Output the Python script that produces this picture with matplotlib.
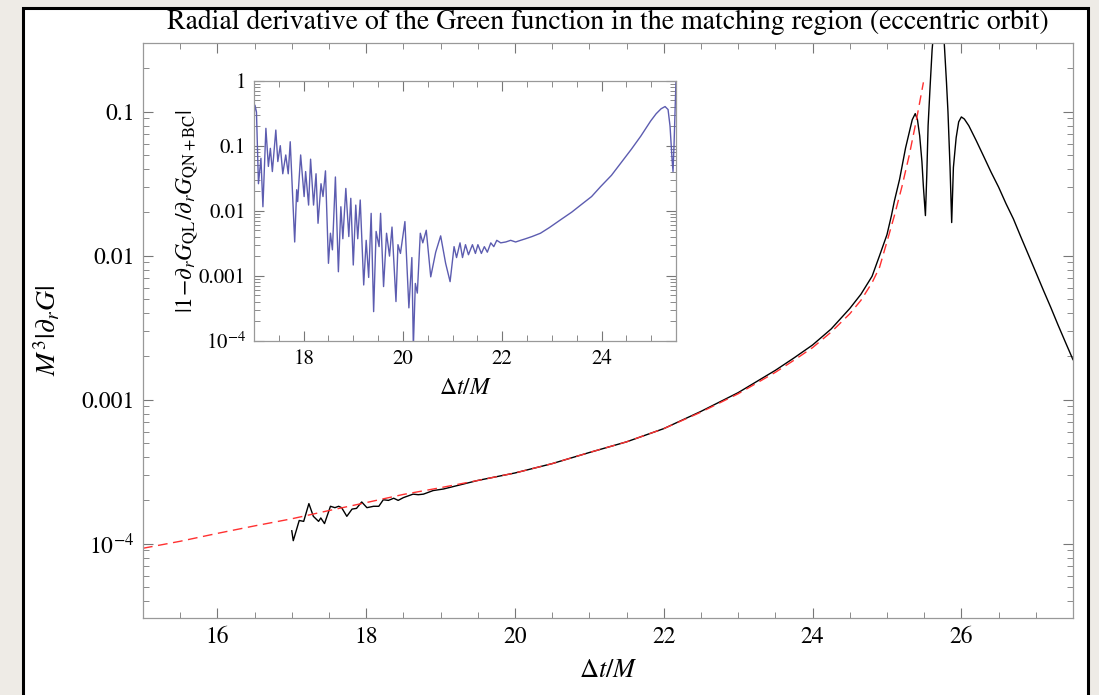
import matplotlib
matplotlib.use("Agg")
import matplotlib.pyplot as plt
from matplotlib.patches import Rectangle
from matplotlib.ticker import FixedLocator, FixedFormatter, MultipleLocator

plt.rcParams["font.family"] = ["STIXGeneral", "DejaVu Serif"]
plt.rcParams["mathtext.fontset"] = "stix"

# main curve (black): numerical derivative of the Green function
green_t = [17.00, 17.02, 17.10, 17.16, 17.23, 17.29, 17.36, 17.39, 17.44, 17.52,
           17.58, 17.63, 17.67, 17.74, 17.81, 17.87, 17.94, 18.01, 18.10, 18.17,
           18.23, 18.30, 18.37, 18.43, 18.50, 18.63, 18.70, 18.77, 18.90, 19.04,
           19.5, 20.0, 20.5, 21.0, 21.5, 22.0, 22.5, 23.0, 23.5, 23.75,
           24.0, 24.25, 24.5, 24.65, 24.8, 24.9, 25.0, 25.06, 25.1, 25.17,
           25.2, 25.25, 25.3, 25.34, 25.38, 25.41, 25.44, 25.47, 25.49, 25.517,
           25.535, 25.553, 25.58, 25.607, 25.64, 25.67, 25.70, 25.73, 25.77, 25.80,
           25.82, 25.848, 25.87, 25.893, 25.93, 25.964, 26.0, 26.04, 26.1, 26.2,
           26.3, 26.4, 26.5, 26.6, 26.7, 26.8, 26.9, 27.0, 27.1, 27.2,
           27.3, 27.4, 27.5]
green_val = [1.23e-4, 1.05e-4, 1.45e-4, 1.43e-4, 1.9e-4, 1.55e-4, 1.43e-4, 1.51e-4, 1.38e-4, 1.82e-4,
             1.78e-4, 1.82e-4, 1.78e-4, 1.55e-4, 1.74e-4, 1.76e-4, 1.95e-4, 1.78e-4, 1.82e-4, 1.82e-4,
             2.02e-4, 2.0e-4, 2.07e-4, 2.0e-4, 2.09e-4, 2.21e-4, 2.19e-4, 2.21e-4, 2.34e-4, 2.4e-4,
             2.75e-4, 3.1e-4, 3.6e-4, 4.3e-4, 5.1e-4, 6.3e-4, 8.3e-4, 1.12e-3, 1.6e-3, 1.95e-3,
             2.4e-3, 3.1e-3, 4.3e-3, 5.4e-3, 7.2e-3, 0.0100, 0.014, 0.019, 0.024, 0.034,
             0.041, 0.056, 0.072, 0.088, 0.097, 0.088, 0.068, 0.045, 0.030, 0.019,
             0.036, 0.08, 0.15, 0.27, 0.42, 0.52, 0.55, 0.48, 0.30, 0.16,
             0.10, 0.041, 0.017, 0.041, 0.066, 0.085, 0.092, 0.089, 0.080, 0.063,
             0.049, 0.038, 0.030, 0.023, 0.018, 0.0135, 0.0102, 0.0077, 0.0058, 0.0044,
             0.0033, 0.0025, 0.0019]

# quasi-local approximation (red dashed)
ql_t = [15.0, 15.5, 16.0, 16.5, 17.0, 17.5, 18.0, 18.5, 19.0, 19.5,
        20.0, 20.5, 21.0, 21.5, 22.0, 22.5, 23.0, 23.5, 23.75, 24.0,
        24.25, 24.5, 24.65, 24.8, 24.9, 25.0, 25.1, 25.2, 25.3, 25.4, 25.49]
ql_val = [9.3e-5, 1.04e-4, 1.18e-4, 1.33e-4, 1.49e-4, 1.7e-4, 1.93e-4, 2.2e-4, 2.45e-4, 2.75e-4,
          3.1e-4, 3.6e-4, 4.3e-4, 5.1e-4, 6.3e-4, 8.2e-4, 1.1e-3, 1.55e-3, 1.88e-3, 2.3e-3,
          2.95e-3, 3.95e-3, 4.9e-3, 6.5e-3, 8.3e-3, 0.0125, 0.019, 0.030, 0.050, 0.090, 0.16]

# inset: relative difference
diff_t = [17.00, 17.02, 17.05, 17.09, 17.14, 17.18, 17.24, 17.29, 17.33, 17.37,
          17.44, 17.48, 17.53, 17.58, 17.64, 17.69, 17.73, 17.82, 17.86, 17.88,
          17.94, 18.01, 18.04, 18.10, 18.14, 18.20, 18.25, 18.29, 18.35, 18.39,
          18.44, 18.50, 18.54, 18.58, 18.64, 18.70, 18.75, 18.79, 18.85, 18.91,
          18.95, 19.00, 19.05, 19.09, 19.14, 19.21, 19.26, 19.31, 19.36, 19.41,
          19.46, 19.52, 19.55, 19.61, 19.67, 19.73, 19.78, 19.86, 19.90, 19.95,
          20.04, 20.12, 20.18, 20.21, 20.25, 20.29, 20.35, 20.40, 20.47, 20.56,
          20.66, 20.76, 20.86, 20.95, 21.03, 21.08, 21.15, 21.20, 21.26, 21.32,
          21.40, 21.46, 21.51, 21.58, 21.64, 21.70, 21.77, 21.83, 21.89, 21.97,
          22.07, 22.17, 22.27, 22.37, 22.47, 22.6, 22.77, 22.95, 23.17, 23.4,
          23.58, 23.8, 23.98, 24.2, 24.38, 24.6, 24.79, 24.99, 25.1, 25.2,
          25.28, 25.34, 25.38, 25.42, 25.44, 25.46, 25.48, 25.5]
diff_val = [0.28, 0.42, 0.33, 0.026, 0.064, 0.0115, 0.185, 0.048, 0.091, 0.040,
            0.174, 0.057, 0.10, 0.037, 0.072, 0.037, 0.115, 0.0033, 0.021, 0.0138,
            0.072, 0.0165, 0.040, 0.0122, 0.062, 0.0122, 0.037, 0.0064, 0.026, 0.0165,
            0.041, 0.00155, 0.0045, 0.0025, 0.033, 0.00115, 0.0115, 0.0037, 0.022, 0.004,
            0.0155, 0.00146, 0.0122, 0.0037, 0.0146, 0.00072, 0.0035, 0.00094, 0.0091, 0.00028,
            0.0048, 0.0028, 0.0091, 0.00068, 0.0045, 0.0020, 0.0056, 0.0004, 0.0030, 0.0022,
            0.0068, 0.00032, 0.0019, 0.00008, 0.00076, 0.00054, 0.0045, 0.0032, 0.005, 0.00096,
            0.0023, 0.0041, 0.00155, 0.00081, 0.0028, 0.0019, 0.0032, 0.0019, 0.0030, 0.0021,
            0.0030, 0.0022, 0.0030, 0.0022, 0.0028, 0.0023, 0.0032, 0.0028, 0.0035, 0.0032,
            0.0033, 0.0035, 0.0033, 0.0035, 0.0037, 0.0040, 0.0045, 0.0055, 0.0072, 0.0095,
            0.0122, 0.0165, 0.0234, 0.035, 0.053, 0.088, 0.14, 0.24, 0.31, 0.37,
            0.40, 0.36, 0.20, 0.063, 0.04, 0.10, 0.32, 1.0]

main_yticks = [1e-4, 1e-3, 1e-2, 1e-1]
main_ylabels = ["$10^{-4}$", "0.001", "0.01", "0.1"]
inset_yticks = [1e-4, 1e-3, 1e-2, 1e-1, 1.0]
inset_ylabels = ["$10^{-4}$", "0.001", "0.01", "0.1", "1"]

fig = plt.figure(figsize=(10.99, 6.95), dpi=100, facecolor="#eeebe6")
fig.patches.append(Rectangle((23 / 1099, -0.05), 1065 / 1099, 1.05 - 8 / 695,
                             transform=fig.transFigure, facecolor="white",
                             edgecolor="black", linewidth=2.2, zorder=-5))


def mathematica_style(ax, yticks, ylabels, size):
    ax.set_yscale("log")
    for s in ax.spines.values():
        s.set_color("#999999")
        s.set_linewidth(0.9)
    ax.yaxis.set_major_locator(FixedLocator(yticks))
    ax.yaxis.set_major_formatter(FixedFormatter(ylabels))
    ax.xaxis.set_major_locator(MultipleLocator(2))
    ax.xaxis.set_minor_locator(MultipleLocator(0.5))
    ax.tick_params(which="both", direction="in", top=True, right=True,
                   color="#777777", labelsize=size, pad=6)
    ax.tick_params(which="major", length=7, width=0.8)
    ax.tick_params(which="minor", length=4, width=0.6)
    ax.set_facecolor("white")


ax = fig.add_axes([0.1301, 0.1108, 0.8462, 0.8273])
ax.plot(green_t, green_val, color="black", lw=1.0)
ax.plot(ql_t, ql_val, color="#ff3030", lw=1.0, dashes=(7, 4))
ax.set_xlim(15, 27.5)
ax.set_ylim(3.05e-5, 0.3)
mathematica_style(ax, main_yticks, main_ylabels, 17)
ax.set_xlabel(r"$\Delta t/M$", fontsize=19, labelpad=8)
ax.set_ylabel(r"$M^3|\partial_r G|$", fontsize=20)
ax.yaxis.set_label_coords(-0.087, 0.5)

fig.text(0.553, 0.968, "Radial derivative of the Green function in the matching region (eccentric orbit)",
         ha="center", va="center", fontsize=20)

ins = fig.add_axes([0.2311, 0.5098, 0.384, 0.3741])
ins.plot(diff_t, diff_val, color="#5c5cb0", lw=1.0)
ins.set_xlim(17, 25.5)
ins.set_ylim(1e-4, 1)
mathematica_style(ins, inset_yticks, inset_ylabels, 15)
ins.set_xlabel(r"$\Delta t/M$", fontsize=17, labelpad=6)
ins.set_ylabel(r"$|1\!-\!\partial_r G_{\mathrm{QL}}/\partial_r G_{\mathrm{QN+BC}}|$", fontsize=17)
ins.yaxis.set_label_coords(-0.128, 0.5)

fig.savefig("out.png", dpi=100, facecolor=fig.get_facecolor())
